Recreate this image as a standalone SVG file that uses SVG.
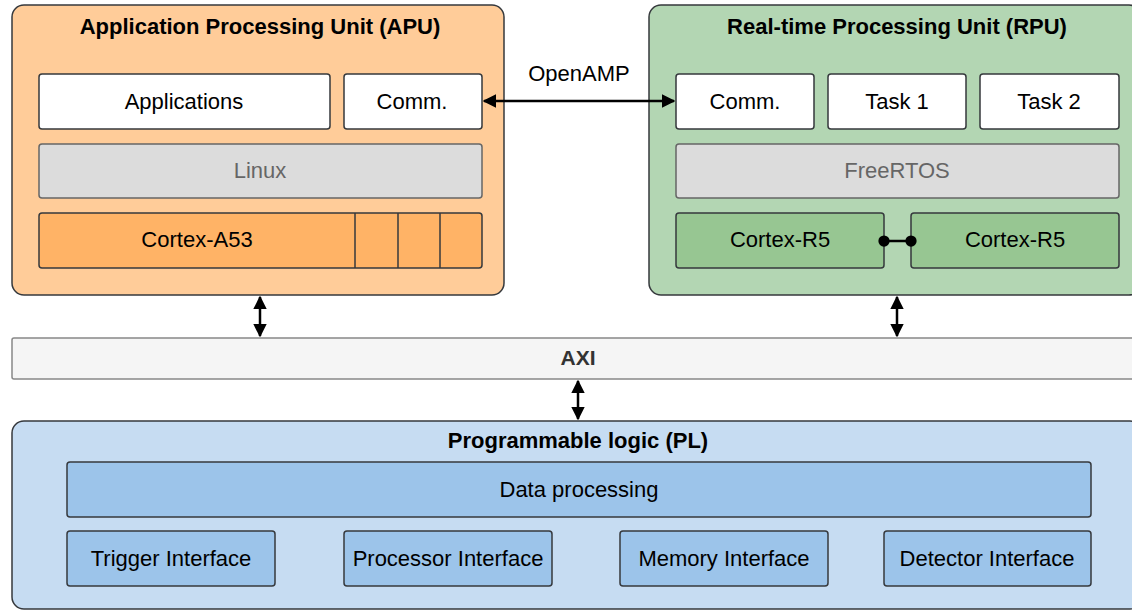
<svg xmlns="http://www.w3.org/2000/svg" width="1132" height="612" viewBox="0 0 1132 612">
<defs>
<marker id="ah" viewBox="0 0 10 10" refX="9" refY="5" markerWidth="5.5" markerHeight="5.5" orient="auto-start-reverse" markerUnits="strokeWidth">
<path d="M0,0 L10,5 L0,10 Z" fill="#000"/>
</marker>
<marker id="dot" viewBox="0 0 10 10" refX="5" refY="5" markerWidth="5" markerHeight="5" markerUnits="strokeWidth">
<circle cx="5" cy="5" r="4.5" fill="#000"/>
</marker>
</defs>
<style>
text{font-family:"Liberation Sans",Arial,sans-serif;text-anchor:middle;fill:#000}
.t{font-size:22px;font-weight:bold}
.l{font-size:22px}
.g{fill:#666}
.box{stroke:#36393d;stroke-width:1.5}
.w{fill:#fff}
.grey{fill:#dcdcdc;stroke:#666;stroke-width:1.5}
.conn{stroke:#000;stroke-width:2.5;fill:none}
</style>
<rect x="0" y="0" width="1132" height="612" fill="#fff"/>
<g id="apu">
<rect class="box" x="12" y="5" width="492" height="290" rx="12" fill="#ffcc99"/>
<text class="t" x="260" y="34">Application Processing Unit (APU)</text>
</g>
<g id="apu-apps">
<rect class="box w" x="39" y="74" width="291" height="55" rx="3"/>
<text class="l" x="184" y="109">Applications</text>
</g>
<g id="apu-comm">
<rect class="box w" x="344" y="74" width="138" height="55" rx="3"/>
<text class="l" x="412" y="109">Comm.</text>
</g>
<g id="linux">
<rect class="grey" x="39" y="144" width="443" height="54" rx="3"/>
<text class="l g" x="260" y="178">Linux</text>
</g>
<g id="cortex-a53">
<rect class="box" x="39" y="213" width="443" height="55" rx="3" fill="#ffb366"/>
<line class="box" x1="355" y1="213" x2="355" y2="268"/>
<line class="box" x1="398" y1="213" x2="398" y2="268"/>
<line class="box" x1="440" y1="213" x2="440" y2="268"/>
<text class="l" x="197" y="247">Cortex-A53</text>
</g>
<g id="rpu">
<rect class="box" x="649" y="5" width="492" height="290" rx="12" fill="#b3d6b3"/>
<text class="t" x="897" y="34">Real-time Processing Unit (RPU)</text>
</g>
<g id="rpu-comm">
<rect class="box w" x="676" y="74" width="138" height="55" rx="3"/>
<text class="l" x="745" y="109">Comm.</text>
</g>
<g id="task1">
<rect class="box w" x="828" y="74" width="138" height="55" rx="3"/>
<text class="l" x="897" y="109">Task 1</text>
</g>
<g id="task2">
<rect class="box w" x="980" y="74" width="139" height="55" rx="3"/>
<text class="l" x="1049" y="109">Task 2</text>
</g>
<g id="freertos">
<rect class="grey" x="676" y="144" width="443" height="54" rx="3"/>
<text class="l g" x="897" y="178">FreeRTOS</text>
</g>
<g id="cortex-r5-a">
<rect class="box" x="676" y="213" width="208" height="55" rx="3" fill="#97c692"/>
<text class="l" x="780" y="247">Cortex-R5</text>
</g>
<g id="cortex-r5-b">
<rect class="box" x="911" y="213" width="208" height="55" rx="3" fill="#97c692"/>
<text class="l" x="1015" y="247">Cortex-R5</text>
</g>
<g id="axi">
<rect x="12" y="338" width="1130" height="41" rx="2" fill="#f5f5f5" stroke="#888" stroke-width="1.5"/>
<text class="t" x="578" y="365" style="fill:#333;font-size:21px">AXI</text>
</g>
<g id="pl">
<rect class="box" x="12" y="421" width="1130" height="188" rx="12" fill="#c6dcf2"/>
<text class="t" x="578" y="448">Programmable logic (PL)</text>
</g>
<g id="data-processing">
<rect class="box" x="67" y="462" width="1024" height="55" rx="3" fill="#9cc4ea"/>
<text class="l" x="579" y="497">Data processing</text>
</g>
<g id="trigger">
<rect class="box" x="67" y="531" width="208" height="55" rx="3" fill="#9cc4ea"/>
<text class="l" x="171" y="566">Trigger Interface</text>
</g>
<g id="processor">
<rect class="box" x="344" y="531" width="208" height="55" rx="3" fill="#9cc4ea"/>
<text class="l" x="448" y="566">Processor Interface</text>
</g>
<g id="memory">
<rect class="box" x="620" y="531" width="208" height="55" rx="3" fill="#9cc4ea"/>
<text class="l" x="724" y="566">Memory Interface</text>
</g>
<g id="detector">
<rect class="box" x="884" y="531" width="207" height="55" rx="3" fill="#9cc4ea"/>
<text class="l" x="987" y="566">Detector Interface</text>
</g>
<g id="connectors">
<line class="conn" x1="484" y1="101" x2="674" y2="101" marker-start="url(#ah)" marker-end="url(#ah)"/>
<text class="l" x="579" y="81">OpenAMP</text>
<line class="conn" x1="884" y1="241" x2="911" y2="241" marker-start="url(#dot)" marker-end="url(#dot)"/>
<line class="conn" x1="260" y1="297" x2="260" y2="336" marker-start="url(#ah)" marker-end="url(#ah)"/>
<line class="conn" x1="897" y1="297" x2="897" y2="336" marker-start="url(#ah)" marker-end="url(#ah)"/>
<line class="conn" x1="578" y1="381" x2="578" y2="419" marker-start="url(#ah)" marker-end="url(#ah)"/>
</g>
</svg>
